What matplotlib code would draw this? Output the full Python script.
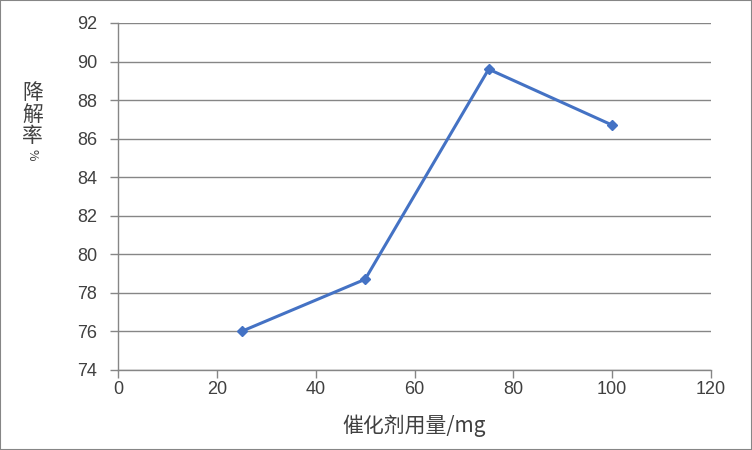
import matplotlib
matplotlib.use("Agg")
import matplotlib.pyplot as plt
from matplotlib.patches import Rectangle

plt.rcParams['font.family'] = ['Noto Sans CJK SC', 'DejaVu Sans']

# data
dose = [25, 50, 75, 100]
rate = [76.0, 78.7, 89.6, 86.7]
xticks = [0, 20, 40, 60, 80, 100, 120]
yticks = [74, 76, 78, 80, 82, 84, 86, 88, 90, 92]

gray = '#868686'
blue = '#4472C4'

fig = plt.figure(figsize=(7.52, 4.5), dpi=100)
ax = fig.add_axes([0.157, 0.178, 0.7885, 0.771])

ax.plot(dose, rate, color=blue, lw=2.2, marker='D', ms=5.5, zorder=3)

ax.set_xlim(0, 120)
ax.set_ylim(74, 92)
ax.set_xticks(xticks)
ax.set_yticks(yticks)
ax.yaxis.grid(True, color=gray, lw=1)
ax.set_axisbelow(True)
for s in ['top', 'right']:
    ax.spines[s].set_visible(False)
for s in ['left', 'bottom']:
    ax.spines[s].set_color(gray)
    ax.spines[s].set_linewidth(1)
ax.tick_params(axis='both', colors=gray, length=6, width=1, labelsize=13,
               labelcolor='#404040')
ax.tick_params(axis='y', pad=9)
ax.tick_params(axis='x', pad=2)
for lab in ax.get_xticklabels() + ax.get_yticklabels():
    lab.set_family(['Liberation Sans', 'DejaVu Sans'])

ax.set_xlabel('催化剂用量/mg', fontsize=15, color='#404040', labelpad=12)

# vertical stacked y label
fig.text(0.043, 0.818, '降\n解\n率', fontsize=15, color='#404040',
         ha='center', va='top', linespacing=0.98)
fig.text(0.043, 0.668, '%', fontsize=9, color='#404040',
         ha='center', va='top', rotation=-90)

# outer border
fig.patches.append(Rectangle((0, 0), 1, 1, transform=fig.transFigure,
                             fill=False, ec=gray, lw=1.5))

fig.savefig('out.png', dpi=100)
